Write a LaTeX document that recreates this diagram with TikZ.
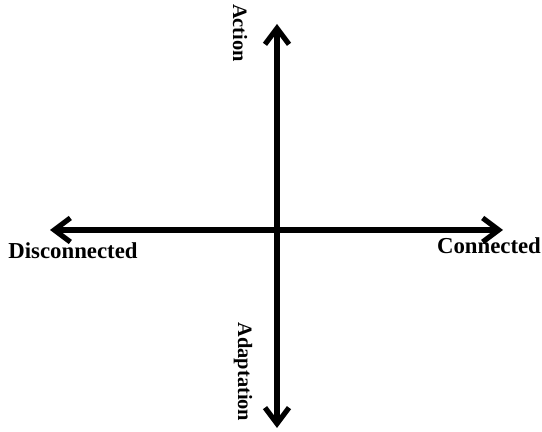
\documentclass[tikz,border=0pt]{standalone}
\usepackage{fontspec}
\setmainfont{Liberation Serif}
\usetikzlibrary{arrows.meta}

\begin{document}
\begin{tikzpicture}[x=0.5pt, y=0.5pt,
    axis/.style={line width=2.6pt, {Straight Barb[length=8pt, width=12pt, line join=miter]}-{Straight Barb[length=8pt, width=12pt, line join=miter]}},
    hlabel/.style={font=\bfseries\fontsize{11.4}{13}\selectfont, inner sep=0pt},
    vlabel/.style={font=\bfseries\fontsize{10.2}{12}\selectfont, inner sep=0pt, rotate=-90}]

    % 1. Fix the page size
    \useasboundingbox (0,0) rectangle (542,432);

    % 2. Define the ends of the two axes
    \coordinate (W) at (50,202);
    \coordinate (E) at (503,202);
    \coordinate (N) at (277,408);
    \coordinate (S) at (277,4);

    % 3. Draw the axes
    \draw[axis] (W) -- (E);
    \draw[axis] (S) -- (N);

    % 4. Label the four directions
    \node[vlabel] (action) at (240,399) {Action};
    \node[vlabel] (adaptation) at (243,60) {Adaptation};
    \node[hlabel] (disconnected) at (73,181) {Disconnected};
    \node[hlabel] (connected) at (489,186) {Connected};

\end{tikzpicture}
\end{document}
